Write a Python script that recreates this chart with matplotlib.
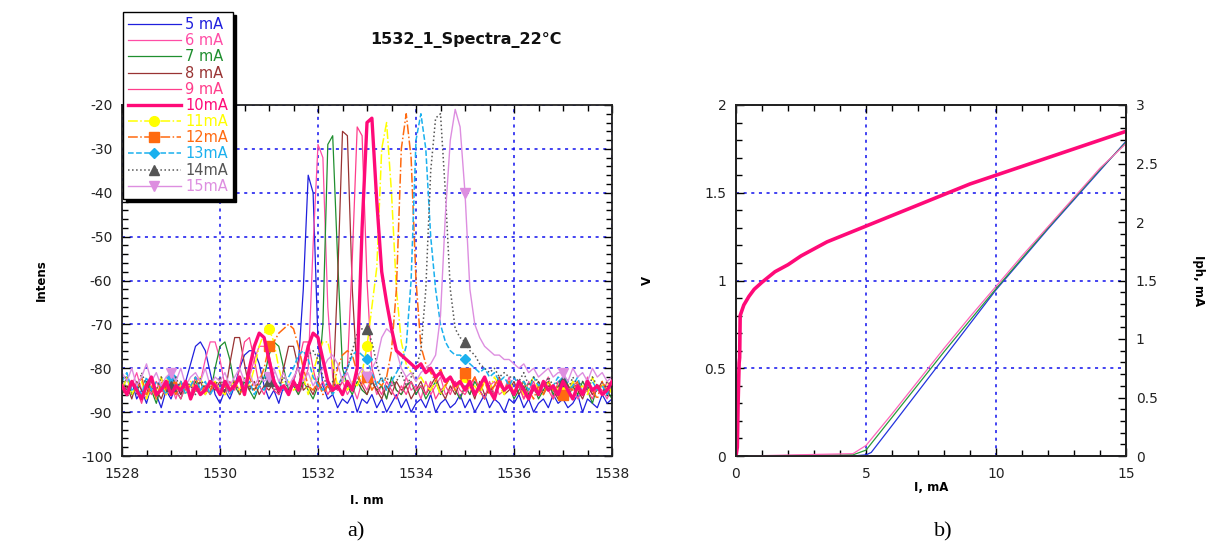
import matplotlib
matplotlib.use("Agg")
import matplotlib.pyplot as plt
from matplotlib.ticker import MultipleLocator, FuncFormatter
from matplotlib.transforms import Bbox, TransformedBbox

# ---- a) spectra, wavelength grid in nm ----
wavelength = [1528.0, 1528.1, 1528.2, 1528.3, 1528.4, 1528.5, 1528.6, 1528.7, 1528.8, 1528.9,
              1529.0, 1529.1, 1529.2, 1529.3, 1529.4, 1529.5, 1529.6, 1529.7, 1529.8, 1529.9,
              1530.0, 1530.1, 1530.2, 1530.3, 1530.4, 1530.5, 1530.6, 1530.7, 1530.8, 1530.9,
              1531.0, 1531.1, 1531.2, 1531.3, 1531.4, 1531.5, 1531.6, 1531.7, 1531.8, 1531.9,
              1532.0, 1532.1, 1532.2, 1532.3, 1532.4, 1532.5, 1532.6, 1532.7, 1532.8, 1532.9,
              1533.0, 1533.1, 1533.2, 1533.3, 1533.4, 1533.5, 1533.6, 1533.7, 1533.8, 1533.9,
              1534.0, 1534.1, 1534.2, 1534.3, 1534.4, 1534.5, 1534.6, 1534.7, 1534.8, 1534.9,
              1535.0, 1535.1, 1535.2, 1535.3, 1535.4, 1535.5, 1535.6, 1535.7, 1535.8, 1535.9,
              1536.0, 1536.1, 1536.2, 1536.3, 1536.4, 1536.5, 1536.6, 1536.7, 1536.8, 1536.9,
              1537.0, 1537.1, 1537.2, 1537.3, 1537.4, 1537.5, 1537.6, 1537.7, 1537.8, 1537.9,
              1538.0]

p_5ma = [-84, -86, -83, -87, -85, -88, -84, -86, -89, -85,
         -87, -84, -86, -83, -79, -75, -74, -76, -81, -86,
         -88, -85, -87, -84, -80, -77, -76, -76, -79, -84,
         -87, -85, -88, -84, -86, -83, -79, -62, -36, -40,
         -74, -84, -87, -86, -89, -87, -88, -86, -90, -87,
         -88, -86, -89, -87, -90, -88, -86, -89, -87, -90,
         -88, -87, -89, -86, -90, -88, -87, -89, -88, -86,
         -89, -87, -90, -88, -86, -89, -87, -88, -90, -87,
         -88, -86, -89, -87, -90, -88, -87, -89, -86, -88,
         -87, -89, -88, -86, -90, -87, -88, -89, -86, -88,
         -87]
p_6ma = [-83, -86, -84, -81, -85, -87, -83, -85, -82, -86,
         -84, -87, -83, -85, -86, -82, -83, -78, -74, -74,
         -78, -84, -86, -83, -85, -84, -82, -78, -75, -75,
         -77, -82, -86, -84, -85, -83, -86, -84, -80, -52,
         -29, -32, -66, -82, -85, -83, -86, -84, -87, -83,
         -85, -82, -86, -84, -87, -83, -85, -86, -82, -85,
         -84, -87, -83, -86, -84, -82, -86, -85, -83, -87,
         -84, -86, -82, -85, -87, -84, -83, -86, -85, -82,
         -86, -84, -87, -83, -85, -86, -84, -82, -87, -85,
         -83, -86, -84, -87, -85, -82, -86, -84, -85, -87,
         -84]
p_7ma = [-85, -82, -86, -84, -87, -83, -85, -88, -84, -86,
         -83, -85, -87, -84, -86, -83, -85, -84, -86, -80,
         -75, -74, -78, -84, -86, -83, -85, -87, -84, -82,
         -77, -74, -75, -80, -85, -84, -86, -83, -85, -87,
         -84, -70, -29, -27, -55, -80, -84, -86, -83, -85,
         -86, -83, -85, -84, -87, -82, -85, -86, -84, -83,
         -86, -84, -87, -85, -83, -86, -84, -82, -85, -87,
         -84, -86, -83, -85, -87, -84, -86, -83, -85, -84,
         -87, -85, -83, -86, -84, -87, -85, -83, -86, -84,
         -85, -87, -84, -86, -83, -85, -88, -84, -86, -85,
         -87]
p_8ma = [-86, -84, -87, -83, -85, -86, -82, -85, -87, -84,
         -85, -83, -86, -84, -87, -85, -83, -86, -84, -85,
         -83, -86, -79, -73, -73, -79, -85, -83, -86, -84,
         -85, -83, -86, -80, -75, -75, -80, -85, -84, -86,
         -83, -85, -84, -86, -60, -26, -27, -62, -82, -84,
         -86, -83, -85, -87, -84, -86, -83, -85, -84, -87,
         -85, -83, -86, -84, -82, -85, -87, -84, -86, -83,
         -85, -84, -87, -83, -86, -85, -84, -82, -86, -85,
         -83, -86, -84, -87, -85, -83, -86, -84, -85, -87,
         -84, -86, -83, -85, -87, -84, -86, -85, -83, -86,
         -84]
p_9ma = [-84, -86, -83, -85, -88, -84, -86, -83, -85, -86,
         -83, -85, -87, -84, -86, -82, -85, -84, -86, -83,
         -85, -86, -83, -85, -80, -74, -73, -78, -84, -86,
         -83, -85, -86, -84, -85, -83, -79, -74, -74, -80,
         -85, -83, -86, -84, -85, -83, -80, -55, -25, -27,
         -60, -80, -84, -86, -83, -85, -87, -84, -86, -83,
         -85, -84, -86, -83, -87, -85, -84, -86, -83, -85,
         -86, -84, -82, -85, -87, -83, -86, -84, -85, -83,
         -86, -84, -87, -85, -83, -86, -84, -85, -87, -83,
         -85, -86, -84, -83, -86, -85, -87, -84, -86, -83,
         -85]
p_10ma = [-84, -86, -83, -85, -87, -84, -82, -86, -85, -83,
          -86, -84, -85, -83, -87, -84, -86, -85, -83, -84,
          -86, -83, -85, -84, -82, -86, -80, -75, -72, -73,
          -78, -83, -85, -84, -86, -83, -85, -80, -75, -72,
          -73, -78, -83, -85, -84, -86, -83, -85, -80, -48,
          -24, -23, -42, -58, -65, -71, -76, -77, -78, -79,
          -80, -79, -81, -80, -82, -81, -83, -82, -84, -83,
          -85, -83, -86, -84, -82, -85, -87, -83, -85, -84,
          -86, -83, -85, -87, -84, -86, -83, -85, -84, -86,
          -83, -85, -87, -84, -86, -83, -85, -84, -86, -85,
          -83]
p_11ma = [-85, -82, -86, -84, -83, -87, -84, -85, -82, -86,
          -83, -85, -84, -86, -83, -85, -82, -86, -84, -83,
          -85, -86, -84, -83, -85, -82, -84, -80, -75, -72,
          -71, -74, -80, -84, -83, -85, -84, -82, -86, -81,
          -77, -74, -74, -79, -84, -82, -85, -83, -84, -81,
          -75, -66, -57, -30, -24, -40, -62, -74, -79, -81,
          -83, -82, -84, -85, -83, -86, -84, -82, -85, -83,
          -82, -85, -84, -86, -83, -85, -82, -84, -86, -83,
          -85, -83, -86, -84, -82, -85, -86, -83, -84, -85,
          -84, -86, -83, -85, -84, -86, -82, -85, -84, -83,
          -86]
p_12ma = [-84, -86, -83, -85, -82, -86, -84, -87, -83, -85,
          -84, -86, -83, -85, -84, -82, -86, -84, -85, -83,
          -86, -84, -85, -83, -86, -84, -82, -85, -83, -80,
          -75, -74, -72, -71, -70, -71, -75, -80, -84, -85,
          -83, -86, -84, -85, -80, -77, -76, -77, -81, -84,
          -82, -85, -83, -84, -82, -76, -62, -30, -22, -32,
          -60, -75, -79, -81, -83, -80, -84, -82, -85, -83,
          -81, -84, -82, -85, -83, -86, -84, -82, -85, -83,
          -86, -84, -83, -85, -87, -84, -86, -83, -85, -84,
          -86, -84, -85, -83, -86, -84, -85, -87, -83, -85,
          -84]
p_13ma = [-83, -81, -85, -84, -86, -82, -85, -83, -84, -86,
          -82, -85, -83, -86, -84, -82, -85, -83, -86, -84,
          -85, -83, -86, -84, -82, -85, -83, -86, -84, -85,
          -82, -84, -83, -85, -82, -80, -77, -76, -78, -82,
          -84, -85, -83, -86, -84, -82, -80, -77, -76, -77,
          -78, -81, -84, -82, -85, -83, -81, -79, -75, -60,
          -28, -22, -30, -50, -62, -70, -74, -76, -77, -77,
          -78, -79, -80, -81, -80, -82, -81, -83, -82, -84,
          -82, -84, -83, -85, -82, -84, -83, -85, -84, -82,
          -83, -85, -84, -82, -86, -84, -83, -85, -84, -86,
          -83]
p_14ma = [-82, -85, -83, -86, -81, -84, -83, -85, -82, -84,
          -84, -82, -85, -83, -84, -86, -82, -85, -83, -84,
          -82, -85, -84, -83, -86, -82, -84, -85, -83, -82,
          -83, -85, -84, -82, -85, -83, -84, -80, -77, -76,
          -78, -82, -84, -83, -85, -82, -80, -76, -72, -71,
          -71, -74, -79, -83, -82, -84, -83, -81, -84, -82,
          -80, -76, -62, -35, -23, -22, -40, -62, -71, -73,
          -74, -76, -77, -79, -80, -81, -80, -82, -81, -82,
          -82, -83, -81, -84, -82, -83, -85, -82, -84, -83,
          -83, -85, -82, -84, -83, -85, -82, -84, -86, -83,
          -84]
p_15ma = [-81, -83, -80, -84, -82, -79, -83, -81, -84, -82,
          -81, -83, -80, -84, -82, -81, -83, -80, -84, -82,
          -83, -81, -84, -82, -80, -83, -81, -84, -82, -83,
          -82, -80, -83, -81, -84, -82, -80, -83, -81, -84,
          -82, -80, -78, -77, -79, -83, -81, -84, -82, -80,
          -82, -80, -78, -73, -71, -72, -76, -80, -82, -81,
          -83, -81, -80, -79, -77, -68, -45, -28, -21, -25,
          -40, -62, -70, -73, -75, -76, -77, -77, -78, -78,
          -79, -80, -79, -81, -80, -82, -81, -80, -82, -81,
          -81, -83, -80, -82, -81, -83, -80, -82, -81, -83,
          -82]

spectra = [p_5ma, p_6ma, p_7ma, p_8ma, p_9ma, p_10ma,
           p_11ma, p_12ma, p_13ma, p_14ma, p_15ma]
labels = ["5 mA", "6 mA", "7 mA", "8 mA", "9 mA", "10mA",
          "11mA", "12mA", "13mA", "14mA", "15mA"]

# ---- b) L-I-V ----
i_volt = [0, 0.05, 0.08, 0.12, 0.14, 0.16, 0.3, 0.5, 0.7, 1.0, 1.5, 2.0, 2.5,
          3.0, 3.5, 4.0, 5.0, 6.0, 7.0, 8.0, 9.0, 10.0, 11.0, 12.0, 13.0, 14.0, 15.0]
volt = [0, 0.05, 0.3, 0.53, 0.56, 0.8, 0.86, 0.91, 0.95, 0.99, 1.05, 1.09, 1.14,
        1.18, 1.22, 1.25, 1.31, 1.37, 1.43, 1.49, 1.55, 1.60, 1.65, 1.70, 1.75, 1.80, 1.85]

i_pink = [0.5, 2.3, 4.5, 5.0, 6.0, 7.0, 8.0, 9.0, 10.0, 11.0, 12.0, 13.0, 14.0, 15.0]
iph_pink = [0.0, 0.01, 0.02, 0.09, 0.36, 0.64, 0.92, 1.19, 1.45, 1.71, 1.96, 2.21, 2.46, 2.67]
i_green = [0.5, 4.5, 5.0, 6.0, 7.0, 8.0, 9.0, 10.0, 11.0, 12.0, 13.0, 14.0, 15.0]
iph_green = [0.0, 0.01, 0.05, 0.33, 0.61, 0.89, 1.16, 1.43, 1.69, 1.95, 2.20, 2.45, 2.68]
i_blue = [0.5, 4.5, 5.0, 5.2, 6.0, 7.0, 8.0, 9.0, 10.0, 11.0, 12.0, 13.0, 14.0, 15.0]
iph_blue = [0.0, 0.0, 0.01, 0.03, 0.26, 0.55, 0.84, 1.13, 1.42, 1.68, 1.94, 2.19, 2.44, 2.69]

W, H = 1213, 549
plt.rcParams['font.family'] = ['DejaVu Sans']
plt.rcParams['axes.unicode_minus'] = False
fig = plt.figure(figsize=(W / 100, H / 100), dpi=100)

colors = ['#1f1fdd', '#ff4da6', '#1f8f2f', '#993333', '#ff3d8b', '#ff0a78',
          '#ffff00', '#ff6a10', '#1ab0ee', '#555555', '#dd8ee0']
styles = ['-', '-', '-', '-', '-', '-', '-.', '-.', '--', ':', '-']
markers = [None, None, None, None, None, None, 'o', 's', 'D', '^', 'v']
widths = [0.9, 0.9, 0.9, 0.9, 0.9, 2.4, 1.1, 1.1, 1.1, 1.1, 1.0]
msizes = [0, 0, 0, 0, 0, 0, 7, 6.5, 5, 6.5, 7]

ax1 = fig.add_axes([122 / W, 1 - 456 / H, 490 / W, 351 / H])
for y, lab, c, ls, m, lw, ms in zip(spectra, labels, colors, styles, markers, widths, msizes):
    ax1.plot(wavelength, y, color=c, ls=ls, lw=lw, marker=m, ms=ms,
             markevery=(10, 20), label=lab, zorder=3 if lab == "10mA" else 2)

ax1.set_xlim(1528, 1538)
ax1.set_ylim(-100, -20)
ax1.xaxis.set_major_locator(MultipleLocator(2))
ax1.xaxis.set_minor_locator(MultipleLocator(0.5))
ax1.yaxis.set_major_locator(MultipleLocator(10))
ax1.yaxis.set_minor_locator(MultipleLocator(2))
ax1.grid(True, which='major', color='#1010ee', ls=(0, (2, 3)), lw=1.1)


def style_axes(ax):
    for s in ax.spines.values():
        s.set_linewidth(1.3)
        s.set_color('#222222')
    ax.tick_params(which='both', direction='in', top=True, right=True,
                   labelsize=10, labelcolor='#222222')
    ax.tick_params(which='major', length=6, width=1)
    ax.tick_params(which='minor', length=4, width=1)
    ax.tick_params(axis='x', pad=8)
    ax.tick_params(axis='y', pad=7)


style_axes(ax1)
ax1.set_ylabel("Intens", fontsize=8.5, fontweight='bold', labelpad=24)

leg = fig.legend(loc='upper left', bbox_to_anchor=(123 / W, 1 - 12 / H),
                 bbox_transform=fig.transFigure, borderaxespad=0,
                 fontsize=10.5, labelspacing=0.08, handlelength=3.6,
                 handletextpad=0.3, borderpad=0.35, fancybox=False,
                 shadow={'color': 'black', 'alpha': 1}, labelcolor='linecolor',
                 framealpha=1, edgecolor='black')
leg.get_frame().set_linewidth(1.0)

fig.text(466 / W, 1 - 40 / H, "1532_1_Spectra_22°C", fontsize=11.5,
         fontweight='bold', ha='center', va='center', color='#111111')

# x label of a) is partly hidden under the caption area
xl = fig.text(367 / W, 1 - 501 / H, "I, nm", fontsize=8.5, fontweight='bold',
              ha='center', va='center')
xl.set_clip_box(TransformedBbox(Bbox([[0, 1 - 504 / H], [1, 1]]), fig.transFigure))
xl.set_clip_on(True)

# ---- right panel ----
ax2 = fig.add_axes([736 / W, 1 - 456 / H, 390 / W, 351 / H])
ax2.plot(i_volt, volt, color='#ff0a78', lw=2.6, zorder=3)
ax2.set_xlim(0, 15)
ax2.set_ylim(0, 2)
ax2.xaxis.set_major_locator(MultipleLocator(5))
ax2.xaxis.set_minor_locator(MultipleLocator(1))
ax2.yaxis.set_major_locator(MultipleLocator(0.5))
ax2.yaxis.set_minor_locator(MultipleLocator(0.1))
ax2.grid(True, which='major', color='#1010ee', ls=(0, (2, 3)), lw=1.1)
style_axes(ax2)
ax2.tick_params(right=False, which='both')
fmt = FuncFormatter(lambda v, p: f"{v:g}")
ax2.yaxis.set_major_formatter(fmt)
ax2.xaxis.set_major_formatter(fmt)
ax2.set_ylabel("V", fontsize=8.5, fontweight='bold', labelpad=36)
ax2.set_xlabel("I, mA", fontsize=8.5, fontweight='bold', labelpad=0)

ax3 = ax2.twinx()
ax3.plot(i_blue, iph_blue, color='#2233dd', lw=0.9)
ax3.plot(i_green, iph_green, color='#2a9a3a', lw=0.9)
ax3.plot(i_pink, iph_pink, color='#ff66bb', lw=0.9)
ax3.set_ylim(0, 3)
ax3.yaxis.set_major_locator(MultipleLocator(0.5))
ax3.yaxis.set_minor_locator(MultipleLocator(0.1))
ax3.yaxis.set_major_formatter(fmt)
for s in ax3.spines.values():
    s.set_linewidth(1.3)
    s.set_color('#222222')
ax3.tick_params(which='both', direction='in', labelsize=10, labelcolor='#222222', pad=7)
ax3.tick_params(which='major', length=6, width=1)
ax3.tick_params(which='minor', length=4, width=1)
ax3.set_ylabel("Iph, mA", fontsize=8.5, fontweight='bold', rotation=270, labelpad=34)

fig.text(356 / W, 1 - 532 / H, "a)", family='Liberation Serif', fontsize=16,
         ha='center', va='center')
fig.text(943 / W, 1 - 532 / H, "b)", family='Liberation Serif', fontsize=16,
         ha='center', va='center')

fig.savefig("out.png", dpi=100)
